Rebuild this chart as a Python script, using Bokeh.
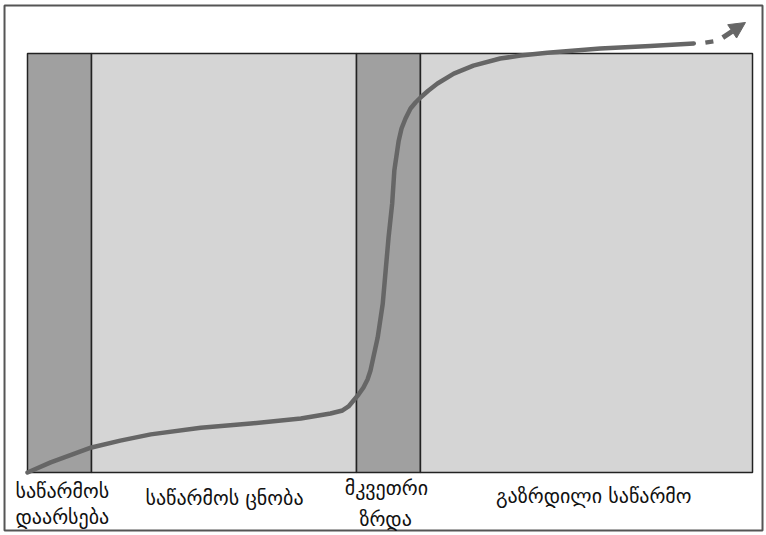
from bokeh.plotting import figure
from bokeh.models import Range1d, Arrow, NormalHead, ColumnDataSource
from bokeh.core.properties import value
from bokeh.embed import file_html
from bokeh.resources import INLINE

# Stage bands (time axis 0..100)
band_left = [0.0, 8.83, 45.38, 54.2]
band_right = [8.83, 45.38, 54.2, 100.0]
band_colors = ["#a0a0a0", "#d5d5d5", "#a0a0a0", "#d5d5d5"]
y_bottom = 0.0
y_top = 100.0

# Growth curve (solid part)
curve_x = [0.0, 3.2, 8.83, 12.8, 17.0, 23.9, 30.8, 37.7, 41.79, 43.45, 44.28,
           44.97, 45.66, 46.34, 46.9, 47.31, 48.3, 49.0, 49.4, 49.8, 50.3,
           50.6, 51.2, 51.59, 52.14, 52.83, 53.52, 54.21, 55.31, 56.55, 58.8,
           61.5, 65.2, 68.0, 71.7, 79.0, 85.9, 91.9]
curve_y = [0.0, 2.4, 5.97, 7.6, 9.1, 10.7, 11.7, 12.9, 14.08, 14.8, 15.75,
           17.18, 18.62, 20.29, 22.2, 24.34, 32.2, 40.3, 48.2, 56.1, 64.2,
           72.1, 79.2, 82.1, 84.49, 86.87, 88.31, 89.5, 91.17, 92.84, 95.2,
           97.1, 98.8, 99.5, 100.2, 101.2, 101.8, 102.4]

# Dashed continuation and arrow
dash_x = [93.5, 94.6]
dash_y = [102.6, 102.9]
arrow_start = (95.9, 103.8)
arrow_end = (99.03, 107.4)

# Stage labels
label_text = ["საწარმოს", "დაარსება", "საწარმოს ცნობა", "მკვეთრი", "ზრდა", "გაზრდილი საწარმო"]
label_x = [-1.66, -1.66, 27.17, 49.5, 49.4, 78.1]
label_y = [-4.3, -10.74, -6.2, -3.8, -11.0, -5.5]
label_align = ["left", "left", "center", "center", "center", "center"]

p = figure(width=766, height=535, output_backend="svg", toolbar_location=None,
           x_range=Range1d(-3.724, 101.93), y_range=Range1d(-15.04, 112.65),
           min_border=0)
p.xaxis.visible = False
p.yaxis.visible = False
p.xgrid.visible = False
p.ygrid.visible = False
p.outline_line_color = None
p.background_fill_color = "white"
p.border_fill_color = "white"

# outer frame
p.quad(left=-3.17, right=101.38, bottom=-13.84, top=111.46,
       fill_color=None, line_color="#555555", line_width=2)

p.quad(left=band_left, right=band_right, bottom=y_bottom, top=y_top,
       fill_color=band_colors, line_color="#222222", line_width=1.5)

p.line(curve_x, curve_y, line_color="#666666", line_width=4.5, line_cap="round", line_join="round")
p.line(dash_x, dash_y, line_color="#666666", line_width=4.5)

p.add_layout(Arrow(end=NormalHead(size=16, fill_color="#666666", line_color="#666666"),
                   x_start=arrow_start[0], y_start=arrow_start[1],
                   x_end=arrow_end[0], y_end=arrow_end[1],
                   line_color="#666666", line_width=5))

src = ColumnDataSource(dict(x=label_x, y=label_y, t=label_text, a=label_align))
p.text(x="x", y="y", text="t", text_align="a", text_baseline="middle",
       text_font=value("DejaVu Sans"), text_font_size="20px", text_color="#111111",
       source=src)

open("out.html", "w").write(file_html(p, INLINE))
